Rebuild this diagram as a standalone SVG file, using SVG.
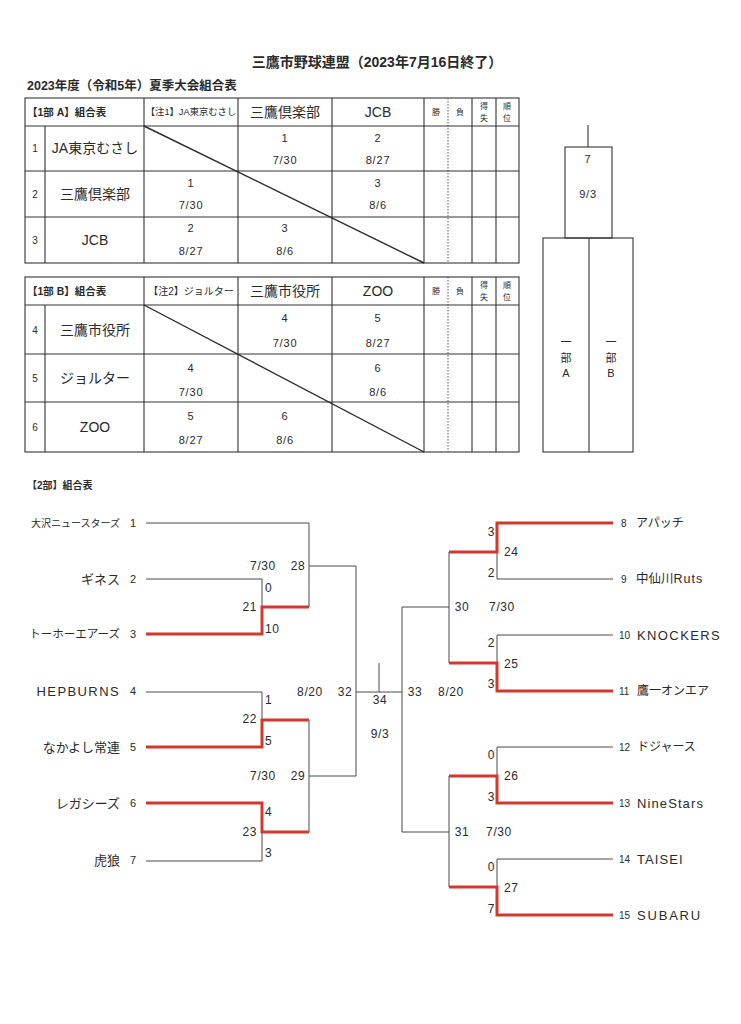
<svg xmlns="http://www.w3.org/2000/svg" width="741" height="1024" viewBox="0 0 741 1024">
<style>
text{font-family:"Liberation Sans","Noto Sans CJK JP",sans-serif;fill:#2a2a2a;dominant-baseline:central}
.t{stroke:#333;stroke-width:1.1;fill:none}
.dg{stroke:#2a2a2a;stroke-width:1.4;fill:none}
.dot{stroke:#555;stroke-width:1;stroke-dasharray:1.5 1.5;fill:none}
.bl{stroke:#4a4a4a;stroke-width:1;fill:none}
.rd{stroke:#d2392d;stroke-width:3;fill:none;stroke-linejoin:miter}
.c{text-anchor:middle}
.e{text-anchor:end}
.b{font-weight:bold}
.n{font-size:11px;letter-spacing:0.8px}
.hd{font-size:14px}
.sm{font-size:8px}
.lb{font-size:12px;letter-spacing:0.6px}
.tn{font-size:11px}
.nm{font-size:13px}
.la{font-size:13px;letter-spacing:1.4px}
</style>
<rect width="741" height="1024" fill="#fff"/>

<g id="titles">
<text x="377" y="62" class="c b" font-size="14">三鷹市野球連盟（2023年7月16日終了）</text>
<text x="27" y="86" class="b" font-size="12.5">2023年度（令和5年）夏季大会組合表</text>
<text x="27" y="485" class="b" font-size="10">【2部】組合表</text>
</g>

<g id="tableA">
<rect class="t" x="25" y="98" width="494" height="165"/>
<path class="t" d="M25,126H519M25,171H519M25,217H519M45,126V263M144,98V263M238,98V263M332,98V263M424,98V263M472,98V263M496,98V263"/>
<path class="dot" d="M448,98V263"/>
<path class="dg" d="M144,126L424,263"/>
<text x="27" y="112" class="b" font-size="10.5">【1部 A】組合表</text>
<text x="191" y="112" class="c" font-size="9.3">【注1】JA東京むさし</text>
<text x="285" y="112" class="c hd">三鷹倶楽部</text>
<text x="378" y="112" class="c hd">JCB</text>
<text x="436" y="112" class="c sm">勝</text>
<text x="460" y="112" class="c sm">負</text>
<text x="484" y="106" class="c sm">得</text>
<text x="484" y="118" class="c sm">失</text>
<text x="507" y="106" class="c sm">順</text>
<text x="507" y="118" class="c sm">位</text>
<text x="35" y="148" class="c" font-size="10">1</text>
<text x="35" y="194" class="c" font-size="10">2</text>
<text x="35" y="240" class="c" font-size="10">3</text>
<text x="95" y="148" class="c hd">JA東京むさし</text>
<text x="95" y="194" class="c hd">三鷹倶楽部</text>
<text x="95" y="240" class="c hd">JCB</text>
<text x="285" y="138" class="c n">1</text>
<text x="285" y="160" class="c n">7/30</text>
<text x="378" y="138" class="c n">2</text>
<text x="378" y="160" class="c n">8/27</text>
<text x="191" y="183" class="c n">1</text>
<text x="191" y="205" class="c n">7/30</text>
<text x="378" y="183" class="c n">3</text>
<text x="378" y="205" class="c n">8/6</text>
<text x="191" y="228" class="c n">2</text>
<text x="191" y="251" class="c n">8/27</text>
<text x="285" y="228" class="c n">3</text>
<text x="285" y="251" class="c n">8/6</text>
</g>

<g id="tableB">
<rect class="t" x="25" y="277" width="494" height="175"/>
<path class="t" d="M25,305H519M25,354H519M25,402H519M45,305V452M144,277V452M238,277V452M332,277V452M424,277V452M472,277V452M496,277V452"/>
<path class="dot" d="M448,277V452"/>
<path class="dg" d="M144,305L424,452"/>
<text x="27" y="291" class="b" font-size="10.5">【1部 B】組合表</text>
<text x="191" y="291" class="c" font-size="10">【注2】ジョルター</text>
<text x="285" y="291" class="c hd">三鷹市役所</text>
<text x="378" y="291" class="c hd">ZOO</text>
<text x="436" y="291" class="c sm">勝</text>
<text x="460" y="291" class="c sm">負</text>
<text x="484" y="285" class="c sm">得</text>
<text x="484" y="297" class="c sm">失</text>
<text x="507" y="285" class="c sm">順</text>
<text x="507" y="297" class="c sm">位</text>
<text x="35" y="330" class="c" font-size="10">4</text>
<text x="35" y="378" class="c" font-size="10">5</text>
<text x="35" y="427" class="c" font-size="10">6</text>
<text x="95" y="330" class="c hd">三鷹市役所</text>
<text x="95" y="378" class="c hd">ジョルター</text>
<text x="95" y="427" class="c hd">ZOO</text>
<text x="285" y="318" class="c n">4</text>
<text x="285" y="343" class="c n">7/30</text>
<text x="378" y="318" class="c n">5</text>
<text x="378" y="343" class="c n">8/27</text>
<text x="191" y="368" class="c n">4</text>
<text x="191" y="392" class="c n">7/30</text>
<text x="378" y="368" class="c n">6</text>
<text x="378" y="392" class="c n">8/6</text>
<text x="191" y="416" class="c n">5</text>
<text x="191" y="440" class="c n">8/27</text>
<text x="285" y="416" class="c n">6</text>
<text x="285" y="440" class="c n">8/6</text>
</g>

<g id="final1">
<path class="t" d="M588,125V147"/>
<rect class="t" x="565" y="147" width="47" height="91"/>
<rect class="t" x="543" y="238" width="90" height="214"/>
<path class="t" d="M589,238V452"/>
<text x="588" y="159" class="c n">7</text>
<text x="588" y="194" class="c n">9/3</text>
<text x="566" y="342" class="c" font-size="11">一</text>
<text x="566" y="358" class="c" font-size="11">部</text>
<text x="566" y="373" class="c" font-size="11">A</text>
<text x="611" y="342" class="c" font-size="11">一</text>
<text x="611" y="358" class="c" font-size="11">部</text>
<text x="611" y="373" class="c" font-size="11">B</text>
</g>

<g id="connectors">
<path class="bl" d="M146,523H309V607M146,579H262V607M309,566H356M356,566V776M146,692H262V720M309,720V832M309,776H356M146,861H262V832M356,692H402M379,663V692M402,607V832M402,607H449M402,832H449M449,552V663M497,552V579H613M613,635H497V663M449,776V887M613,747H497V776M613,859H497V887"/>
<path class="rd" d="M146,634H262V607H309M146,747H262V720H309M146,803H262V832H309M613,523H497V552H449M613,691H497V663H449M613,803H497V776H449M613,915H497V887H449"/>
</g>

<g id="scores">
<text x="263" y="566" class="c lb">7/30</text>
<text x="298" y="566" class="c lb">28</text>
<text x="265" y="588" class="lb">0</text>
<text x="257" y="607" class="e lb">21</text>
<text x="265" y="629" class="lb">10</text>
<text x="265" y="700" class="lb">1</text>
<text x="257" y="719" class="e lb">22</text>
<text x="265" y="741" class="lb">5</text>
<text x="263" y="776" class="c lb">7/30</text>
<text x="298" y="776" class="c lb">29</text>
<text x="265" y="812" class="lb">4</text>
<text x="257" y="832" class="e lb">23</text>
<text x="265" y="853" class="lb">3</text>
<text x="310" y="692" class="c lb">8/20</text>
<text x="345" y="692" class="c lb">32</text>
<text x="380" y="700" class="c lb">34</text>
<text x="380" y="734" class="c lb">9/3</text>
<text x="415" y="692" class="c lb">33</text>
<text x="451" y="692" class="c lb">8/20</text>
<text x="495" y="532" class="e lb">3</text>
<text x="504" y="552" class="lb">24</text>
<text x="495" y="573" class="e lb">2</text>
<text x="462" y="607" class="c lb">30</text>
<text x="502" y="607" class="c lb">7/30</text>
<text x="495" y="643" class="e lb">2</text>
<text x="504" y="664" class="lb">25</text>
<text x="495" y="684" class="e lb">3</text>
<text x="495" y="755" class="e lb">0</text>
<text x="504" y="776" class="lb">26</text>
<text x="495" y="797" class="e lb">3</text>
<text x="462" y="832" class="c lb">31</text>
<text x="499" y="832" class="c lb">7/30</text>
<text x="495" y="867" class="e lb">0</text>
<text x="504" y="888" class="lb">27</text>
<text x="495" y="909" class="e lb">7</text>
</g>

<g id="team1"><text x="120" y="523" class="e" font-size="10">大沢ニュースターズ</text><text x="133" y="523" class="c tn">1</text></g>
<g id="team2"><text x="120" y="579" class="e nm">ギネス</text><text x="133" y="579" class="c tn">2</text></g>
<g id="team3"><text x="120" y="634" class="e" font-size="11.5">トーホーエアーズ</text><text x="133" y="634" class="c tn">3</text></g>
<g id="team4"><text x="120" y="691" class="e la">HEPBURNS</text><text x="133" y="691" class="c tn">4</text></g>
<g id="team5"><text x="120" y="747" class="e nm">なかよし常連</text><text x="133" y="747" class="c tn">5</text></g>
<g id="team6"><text x="120" y="803" class="e nm">レガシーズ</text><text x="133" y="803" class="c tn">6</text></g>
<g id="team7"><text x="120" y="860" class="e nm">虎狼</text><text x="133" y="860" class="c tn">7</text></g>
<g id="team8"><text x="621" y="523" font-size="10">8</text><text x="636" y="523" font-size="12">アパッチ</text></g>
<g id="team9"><text x="621" y="579" font-size="10">9</text><text x="636" y="579" font-size="12.5">中仙川<tspan letter-spacing="1">Ruts</tspan></text></g>
<g id="team10"><text x="619" y="635" font-size="10">10</text><text x="637" y="635" class="la">KNOCKERS</text></g>
<g id="team11"><text x="619" y="691" font-size="10">11</text><text x="637" y="691" font-size="12">鷹一オンエア</text></g>
<g id="team12"><text x="619" y="747" font-size="10">12</text><text x="637" y="747" font-size="12">ドジャース</text></g>
<g id="team13"><text x="619" y="803" font-size="10">13</text><text x="637" y="803" class="nm" letter-spacing="1.1">NineStars</text></g>
<g id="team14"><text x="619" y="859" font-size="10">14</text><text x="637" y="859" class="nm" letter-spacing="1.1">TAISEI</text></g>
<g id="team15"><text x="619" y="915" font-size="10">15</text><text x="637" y="915" class="nm" letter-spacing="1.8">SUBARU</text></g>
</svg>
